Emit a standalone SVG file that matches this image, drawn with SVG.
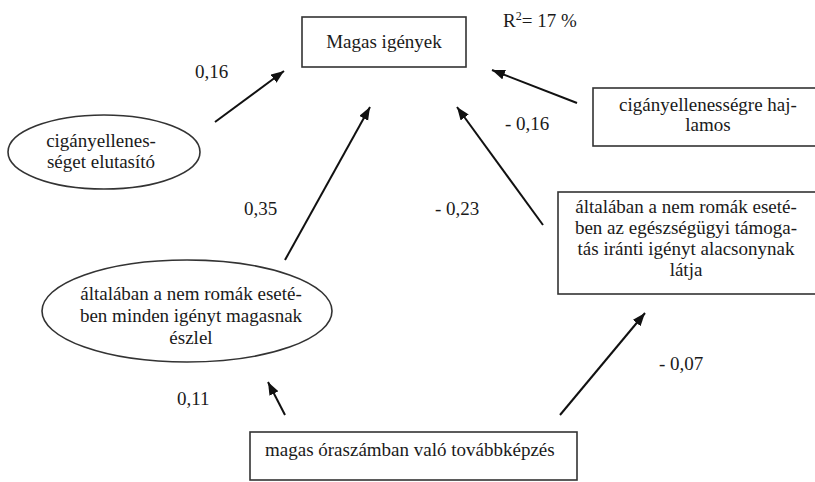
<svg xmlns="http://www.w3.org/2000/svg" width="815" height="482" viewBox="0 0 815 482">
  <style>
    text { font-family: "Liberation Serif", "Times New Roman", "DejaVu Serif", serif; font-size: 19px; fill: #1a1a1a; }
    .c { text-anchor: middle; }
    .box { fill: #ffffff; stroke: #333333; stroke-width: 1.6; }
    .edge { stroke: #111111; stroke-width: 2; fill: none; marker-end: url(#arrow); }
  </style>
  <defs>
    <marker id="arrow" markerUnits="userSpaceOnUse" markerWidth="14" markerHeight="11" refX="13" refY="5" orient="auto">
      <path d="M0,0 L13,5 L0,10 z" fill="#111111"/>
    </marker>
  </defs>
  <rect width="815" height="482" fill="#ffffff"/>

  <!-- nodes -->
  <g id="magas-igenyek">
    <rect class="box" x="302" y="17" width="164" height="50"/>
    <text class="c" x="384" y="48">Magas igények</text>
  </g>
  <g id="r2">
    <text x="503" y="27">R<tspan dy="-7" font-size="12">2</tspan><tspan dy="7">= 17 %</tspan></text>
  </g>
  <g id="ciganyellenesseget-elutasito">
    <ellipse class="box" cx="104" cy="152" rx="96" ry="37"/>
    <text class="c" x="101" y="147">cigányellenes-</text>
    <text class="c" x="101" y="168">séget elutasító</text>
  </g>
  <g id="ciganyellenessegre-hajlamos">
    <rect class="box" x="593" y="88" width="230" height="58"/>
    <text class="c" x="708" y="111">cigányellenességre haj-</text>
    <text class="c" x="708" y="131">lamos</text>
  </g>
  <g id="egeszsegugyi-tamogatas">
    <rect class="box" x="558" y="192" width="260" height="102"/>
    <text class="c" x="686" y="213">általában a nem romák eseté-</text>
    <text class="c" x="686" y="234">ben az egészségügyi támoga-</text>
    <text class="c" x="686" y="255">tás iránti igényt alacsonynak</text>
    <text class="c" x="686" y="276">látja</text>
  </g>
  <g id="minden-igenyt-magasnak">
    <ellipse class="box" cx="187" cy="311" rx="145" ry="51"/>
    <text class="c" x="191" y="300">általában a nem romák eseté-</text>
    <text class="c" x="191" y="322">ben minden igényt magasnak</text>
    <text class="c" x="191" y="344">észlel</text>
  </g>
  <g id="tovabbkepzes">
    <rect class="box" x="250" y="432" width="327" height="48"/>
    <text x="265" y="456">magas óraszámban való továbbképzés</text>
  </g>

  <!-- connectors -->
  <g id="connectors">
    <line class="edge" x1="215" y1="122" x2="284" y2="71"/>
    <line class="edge" x1="577" y1="103" x2="492" y2="70"/>
    <line class="edge" x1="285" y1="260" x2="370" y2="107"/>
    <line class="edge" x1="543" y1="225" x2="457" y2="107"/>
    <line class="edge" x1="285" y1="415" x2="268" y2="382"/>
    <line class="edge" x1="560" y1="415" x2="645" y2="313"/>
  </g>

  <!-- path coefficients -->
  <g id="labels">
    <text x="195" y="78">0,16</text>
    <text x="505" y="130">- 0,16</text>
    <text x="244" y="215">0,35</text>
    <text x="435" y="215">- 0,23</text>
    <text x="177" y="405">0,11</text>
    <text x="659" y="370">- 0,07</text>
  </g>
</svg>
